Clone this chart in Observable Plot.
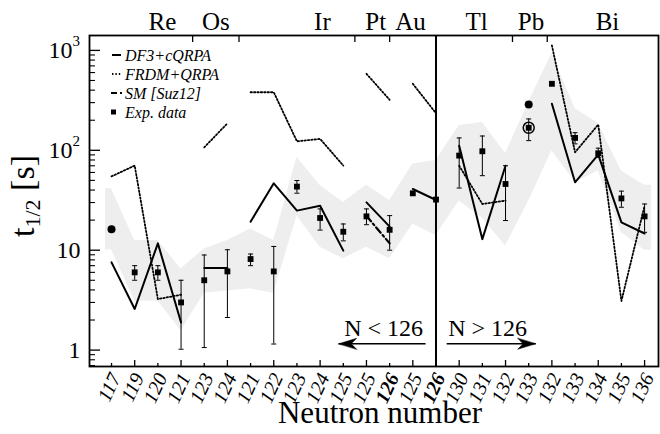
<!DOCTYPE html>
<html><head><meta charset="utf-8">
<script src="https://cdn.jsdelivr.net/npm/d3@7"></script>
<script src="https://cdn.jsdelivr.net/npm/@observablehq/plot@0.6"></script>
<style>
html,body{margin:0;padding:0;background:#fff;}
#chart{width:660px;height:434px;}
</style></head><body><div id="chart"></div>
<script>
// ---- data ----
const nLabels = ["117","119","120","121","123","124","121","122","123","124","125","125","126","125","126","130","131","132","133","132","133","134","135","136"];
const boldLabels = [12, 14];
const elements = ["Re","Re","Re","Re","Os","Os","Ir","Ir","Ir","Ir","Ir","Pt","Pt","Au","Au","Tl","Tl","Pb","Pb","Bi","Bi","Bi","Bi","Bi"];
const elemNames = ["Re","Os","Ir","Pt","Au","Tl","Pb","Bi"];
const elemLabelX = [2.2, 4.5, 9.1, 11.4, 12.9, 15.75, 18.1, 21.4];
const elemSep = [3.5, 5.5, 10.5, 12.0, 17.3, 18.8];

const df3Val = [7.55,2.58,11.7,1.89,6.63,6.63,19.3,46.7,24.9,27.9,9.9,30.1,17.2,41,31.8,111,12.9,70,null,292,47.8,90.6,19,14.7];
const df3Seg = ["Re","Re","Re","Re","Os","Os","Ir","Ir","Ir","Ir","Ir","Pt","Pt","Au","Au","TlPb","TlPb","TlPb",null,"Bi","Bi","Bi","Bi","Bi"];
const frdmVal = [54.8,70.3,3.24,3.58,107,186,381,381,123,130,70.3,583,320,463,235,70,29,31.3,null,1120,95.5,181,3.1,27.9];
const smIdx = [11, 12];
const smVal = [22, 11.7];

const expVal = [null,6.0,6.0,3.0,5.0,6.13,8.15,6.13,43.3,21,15.3,21.8,16.0,37.1,32.1,88.5,97.8,46,168,463,133,93.4,33,21.8];
const expLo  = [null,5.0,5.0,1.02,1.06,2.12,7.0,1.15,37.2,15.9,12.4,18,10.0,null,null,41.9,55.7,19.8,125,null,116,85,26.9,15.1];
const expHi  = [null,7.0,7.0,5.0,8.95,10.1,9.15,10.9,49.8,25.9,18.3,25.9,22.2,null,null,133,139,70,206,null,150,105,39,29];
const circIdx = [0, 18];
const circVal = [16.2, 287];
const ringIdx = [18];
const ringVal = [168];

const bandX  = [-0.26,0,1,2,3,4,5,6,7,8,9,10,11,12,13,14,15,16,17,18,19,20,21,22,23,23.3];
const bandHi = [41.3,41.3,12.5,12.5,6.5,10.3,12.5,16.3,12.5,85,44.4,30.1,45,31.3,73,79,177,190,93,303,933,262,185,62,44.6,44.6];
const bandLo = [10.1,10.1,3.1,3.1,1.56,3.7,3.9,4.1,3.7,22,10.7,8.2,10.7,8.2,18.3,14,31,21,11,31,99,48,62,15,10,10];

const yTickVals = [1, 10, 100, 1000];
const yTickBase = ["1", "10", "10", "10"];
const yTickSup = [null, null, "2", "3"];

const annText = ["N < 126", "N > 126"];
const annX = [11.74, 16.23];
const annY = [1.635, 1.635];
const arrowFrom = [13.55, 14.46];
const arrowTo = [9.8, 18.3];
const arrowY = [1.156, 1.156];
const arrowRot = [-90, 90];

const legendLabels = ["DF3+cQRPA", "FRDM+QRPA", "SM [Suz12]", "Exp. data"];

// ---- build ----
const W = 660, H = 434, mL = 89, mR = 2, mT = 35, mB = 68;
const plotW = W - mL - mR, plotH = H - mT - mB;
const FONT = "Liberation Serif";
const idx = nLabels.map((_, i) => i);

const rows = idx.map(i => ({i, df3: df3Val[i], seg: df3Seg[i], frdm: frdmVal[i], exp: expVal[i], lo: expLo[i], hi: expHi[i]}));
const band = bandX.map((x, k) => ({x, lo: bandLo[k], hi: bandHi[k]}));
const sm = smIdx.map((x, k) => ({x, y: smVal[k]}));
const circ = circIdx.map((x, k) => ({x, y: circVal[k]}));
const ring = ringIdx.map((x, k) => ({x, y: ringVal[k]}));
const arrows = arrowFrom.map((x1, k) => ({x1, x2: arrowTo[k], y: arrowY[k], rot: arrowRot[k]}));
const ann = annText.map((t, k) => ({t, x: annX[k], y: annY[k]}));
const elems = elemNames.map((t, k) => ({t, x: elemLabelX[k]}));
const yTicks = yTickVals.map((v, k) => ({v, base: yTickBase[k], sup: yTickSup[k]}));

const minorY = [];
for (let e = -1; e <= 3; e++) for (let m = 2; m <= 9; m++) { const v = m * Math.pow(10, e); if (v > 0.685 && v < 1410) minorY.push(v); }

const capSymbol = {draw(ctx, size) { const r = Math.sqrt(size / Math.PI); ctx.moveTo(-r, 0); ctx.lineTo(r, 0); }};
const headShape = {draw(ctx, l, r) { ctx.moveTo(0, -l); ctx.lineTo(r, 0); ctx.lineTo(0, -l * 0.3); ctx.lineTo(-r, 0); ctx.closePath(); }};

const withErr = rows.filter(d => d.lo != null);
const plot = Plot.plot({
  width: W, height: H,
  marginLeft: mL, marginRight: mR, marginTop: mT, marginBottom: mB,
  x: {domain: [-0.95, 23.6], axis: null},
  y: {type: "log", domain: [0.685, 1410], axis: null},
  style: {fontFamily: FONT, background: "white", color: "black"},
  marks: [
    Plot.areaY(band, {x: "x", y1: "lo", y2: "hi", fill: "#eeeeee", curve: "linear"}),
    Plot.ruleX([14], {stroke: "black", strokeWidth: 2}),
    Plot.line(rows.filter(d => d.frdm != null), {x: "i", y: "frdm", z: "seg", stroke: "black", strokeWidth: 1.8, strokeDasharray: "1.4,2"}),
    Plot.line(rows.filter(d => d.df3 != null), {x: "i", y: "df3", z: "seg", stroke: "black", strokeWidth: 2}),
    Plot.line(sm, {x: "x", y: "y", stroke: "black", strokeWidth: 2.2, strokeDasharray: "7,3,2,3"}),
    Plot.ruleX(withErr, {x: "i", y1: "lo", y2: "hi", stroke: "black", strokeWidth: 1}),
    Plot.dot(withErr, {x: "i", y: "lo", symbol: capSymbol, r: 2.5, stroke: "black", strokeWidth: 1, fill: "none"}),
    Plot.dot(withErr, {x: "i", y: "hi", symbol: capSymbol, r: 2.5, stroke: "black", strokeWidth: 1, fill: "none"}),
    Plot.dot(rows.filter(d => d.exp != null), {x: "i", y: "exp", symbol: "square", r: 3.3, fill: "black", stroke: "none"}),
    Plot.dot(circ, {x: "x", y: "y", r: 4, fill: "black", stroke: "none"}),
    Plot.dot(ring, {x: "x", y: "y", r: 5.5, fill: "none", stroke: "black", strokeWidth: 1.5}),
    // axes ticks
    Plot.tickX(idx.filter(i => i % 2 === 1), {x: d => d, insetTop: plotH - 6, stroke: "black", strokeWidth: 1.3}),
    Plot.tickX(idx.filter(i => i % 2 === 0), {x: d => d, insetTop: plotH - 3, stroke: "black", strokeWidth: 1.3}),
    Plot.tickX(elemSep, {x: d => d, insetBottom: plotH - 7, stroke: "black", strokeWidth: 1.3}),
    Plot.tickY(yTickVals, {y: d => d, insetRight: plotW - 11, stroke: "black", strokeWidth: 1.3}),
    Plot.tickY(minorY, {y: d => d, insetRight: plotW - 6, stroke: "black", strokeWidth: 1.1}),
    Plot.frame({stroke: "black", strokeWidth: 1.8}),
    // tick labels
    Plot.text(idx.filter(i => !boldLabels.includes(i)), {x: d => d, text: d => nLabels[d], frameAnchor: "bottom", dy: 8, dx: 4, rotate: -65, textAnchor: "end", lineAnchor: "middle", fontStyle: "italic", fontSize: 20, fontFamily: FONT, fill: "black"}),
    Plot.text(boldLabels, {x: d => d, text: d => nLabels[d], frameAnchor: "bottom", dy: 8, dx: 4, rotate: -65, textAnchor: "end", lineAnchor: "middle", fontStyle: "italic", fontWeight: "bold", fontSize: 20, fontFamily: FONT, fill: "black"}),
    Plot.text(yTicks.filter(d => !d.sup), {y: "v", text: "base", frameAnchor: "left", dx: -9, textAnchor: "end", fontSize: 24, fontFamily: FONT, fill: "black"}),
    Plot.text(yTicks.filter(d => d.sup), {y: "v", text: "base", frameAnchor: "left", dx: -17, textAnchor: "end", fontSize: 24, fontFamily: FONT, fill: "black"}),
    Plot.text(yTicks.filter(d => d.sup), {y: "v", text: "sup", frameAnchor: "left", dx: -17, dy: -9, textAnchor: "start", fontSize: 15, fontFamily: FONT, fill: "black"}),
    Plot.text(["Neutron number"], {frameAnchor: "bottom", dx: 6, dy: 56, fontSize: 31, fontFamily: FONT, fill: "black"}),
    // element labels
    Plot.text(elems, {x: "x", y: () => 1905, text: "t", fontSize: 25, fontFamily: FONT, fill: "black"}),
    // N annotations
    Plot.text(ann, {x: "x", y: "y", text: "t", fontSize: 24, fontFamily: FONT, fill: "black"}),
    Plot.link(arrows, {x1: "x1", x2: "x2", y1: "y", y2: "y", stroke: "black", strokeWidth: 1.5}),
    Plot.vector(arrows, {x: "x2", y: "y", rotate: "rot", length: 18, r: 5.5, anchor: "end", shape: headShape, fill: "black", stroke: "black", strokeWidth: 0.5})
  ]
});

const svg = d3.select(plot);
// y-axis title
const t = svg.append("text").attr("transform", "translate(34,196) rotate(-90)").attr("text-anchor", "middle")
  .attr("font-size", 34).attr("font-family", FONT).attr("fill", "black");
t.append("tspan").text("t");
t.append("tspan").attr("font-size", 22).attr("dy", 6).text("1/2");
t.append("tspan").attr("dy", -6).text(" [s]");

// legend
const lg = svg.append("g").attr("font-family", FONT).attr("font-style", "italic").attr("font-size", 16)
  .attr("fill", "black").attr("text-anchor", "start");
const ly = [55, 74, 93, 112];
legendLabels.forEach((lab, k) => {
  lg.append("text").attr("x", 125).attr("y", ly[k]).attr("dy", "0.35em").attr("text-anchor", "start").text(lab);
});
lg.append("line").attr("x1", 112).attr("x2", 121).attr("y1", ly[0]).attr("y2", ly[0]).attr("stroke", "black").attr("stroke-width", 2);
lg.append("line").attr("x1", 112).attr("x2", 121).attr("y1", ly[1]).attr("y2", ly[1]).attr("stroke", "black").attr("stroke-width", 1.8).attr("stroke-dasharray", "1.4,2");
lg.append("line").attr("x1", 111).attr("x2", 123).attr("y1", ly[2]).attr("y2", ly[2]).attr("stroke", "black").attr("stroke-width", 2).attr("stroke-dasharray", "6,3,2,3");
lg.append("rect").attr("x", 111).attr("y", ly[3] - 2.5).attr("width", 5).attr("height", 5).attr("fill", "black");

document.getElementById("chart").appendChild(plot);
</script>
</body></html>
